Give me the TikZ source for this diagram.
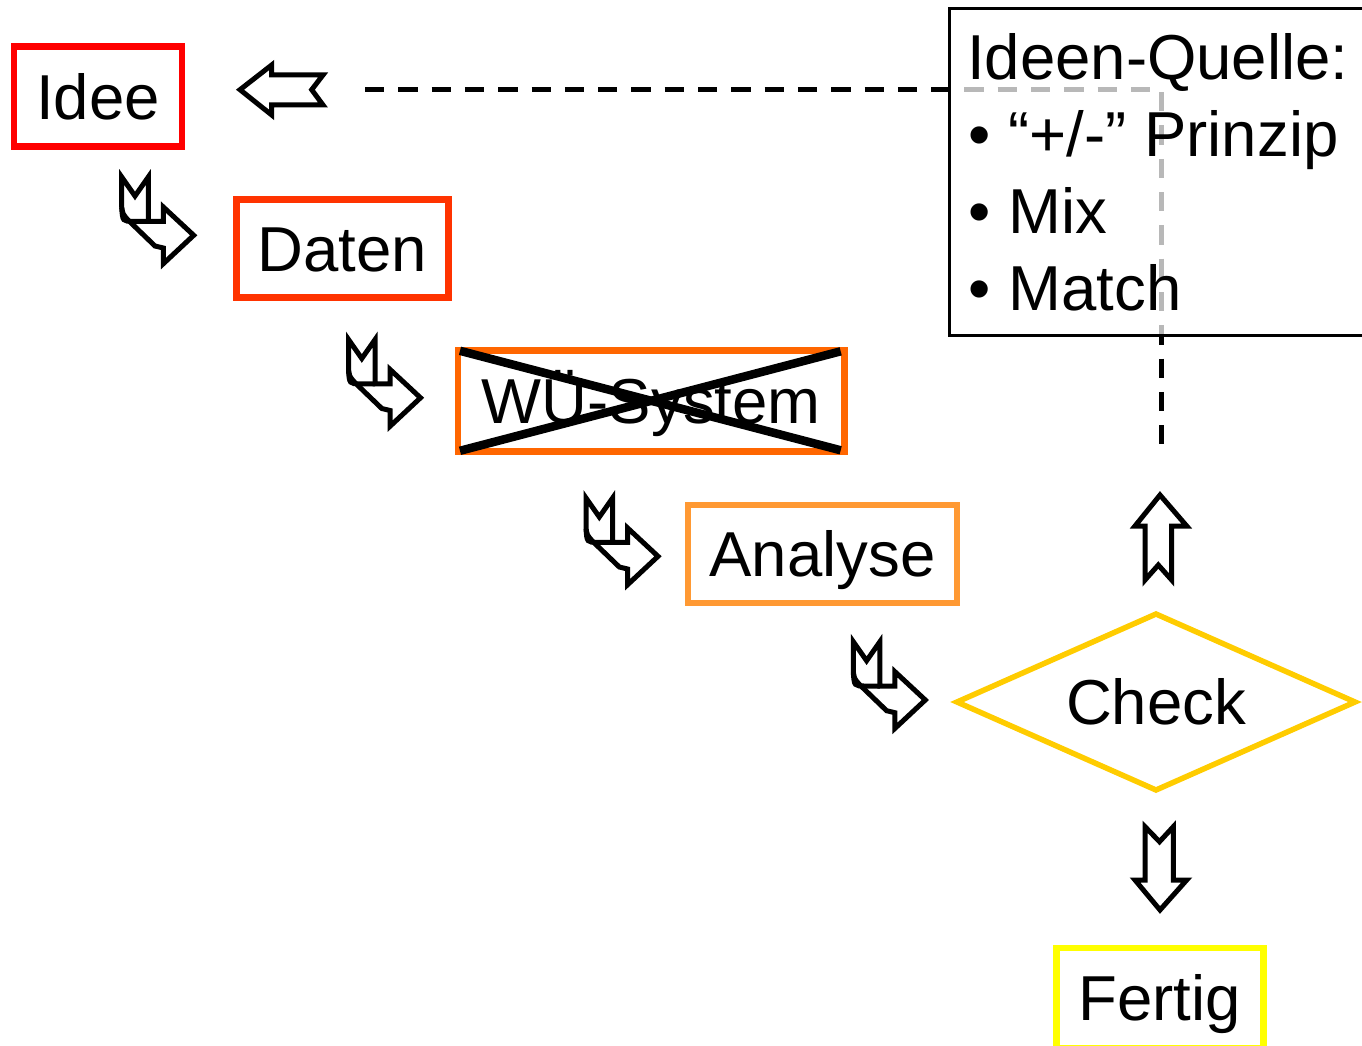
\documentclass[tikz,border=0pt]{standalone}
\usepackage{fontspec}
\setmainfont{Liberation Sans}
\usetikzlibrary{shapes.geometric}

\definecolor{ideerot}{HTML}{FF0000}
\definecolor{datenrot}{HTML}{FF3300}
\definecolor{wuorange}{HTML}{FF6600}
\definecolor{analyseorange}{HTML}{FF9933}
\definecolor{checkgelb}{HTML}{FFCC00}
\definecolor{fertiggelb}{HTML}{FFFF00}

\begin{document}
\begin{tikzpicture}[x = 1pt, y = -1pt, font = \fontsize{63.5}{76}\selectfont,
        stufe/.style = {draw, line width = 6.5pt, inner sep = 0pt, outer sep = 0pt,
                        text height = 45.5pt, text depth = 0pt},
        blockpfeil/.style = {draw, line width = 5pt},
        rueckweg/.style = {line width = 5pt, dash pattern = on 19.3pt off 14pt},
        kasten/.style = {draw, line width = 3pt, outer sep = 0pt, fill = white, fill opacity = 0.72},
        zeile/.style = {anchor = base west, inner sep = 0pt}]
        \useasboundingbox (0,0) rectangle (1362,1046);

        \coordinate (rueck) at (365,89.7);
        \coordinate (knick) at (1161.7,89.7);
        \coordinate (hoch) at (1161.7,444);
        \draw [rueckweg] (rueck) -- (knick) -- (hoch);

        \node [kasten, anchor = north west, minimum width = 445pt, minimum height = 326.7pt] (quelle) at (949.3,8.3) {};
        \node [zeile] (titel) at (967,80) {Ideen-Quelle:};
        \node [zeile] (prinzip) at (968.5,156.7) {• “+/-” Prinzip};
        \node [zeile] (mix) at (968.5,233) {• Mix};
        \node [zeile] (match) at (968.5,310) {• Match};

        \node [stufe, draw = ideerot, minimum width = 168pt, minimum height = 100pt] (idee) at (98,96.3) {Idee};
        \node [stufe, draw = datenrot, minimum width = 212pt, minimum height = 98pt] (daten) at (342.5,248.5) {Daten};
        \node [stufe, draw = wuorange, minimum width = 386.5pt, minimum height = 101pt] (wu) at (651.3,400.8) {WÜ-System};
        \node [stufe, draw = analyseorange, minimum width = 269pt, minimum height = 98pt] (analyse) at (822.5,554) {Analyse};
        \node [stufe, diamond, aspect = 2.26, draw = checkgelb, line width = 5.5pt, minimum width = 398pt, minimum height = 176pt] (check) at (1156,702) {Check};
        \node [stufe, draw = fertiggelb, minimum width = 207pt, minimum height = 100pt] (fertig) at (1159.8,997.8) {Fertig};

        \draw [line width = 8.5pt, shorten <= 2pt, shorten >= 4pt] (wu.north west) -- (wu.south east);
        \draw [line width = 8.5pt, shorten <= 2pt, shorten >= 4pt] (wu.south west) -- (wu.north east);

        \draw [blockpfeil] (240,89.7) -- (271.7,65) -- (271.7,75) -- (323,75) -- (311.7,89.7) -- (323,105) -- (271.7,105) -- (271.7,115) -- cycle;

        \foreach \px/\py in {121.7/177, 348.5/339.5, 586/498, 853.3/641.7} {
            \draw [blockpfeil, shift = {(\px,\py)}] (0,0) -- (13.3,19) -- (26.6,0) -- (26.6,44.3) -- (41.6,44.3) -- (41.6,30) -- (72,58.3) -- (41.6,86.7) -- (41.6,71) -- (33.3,69) -- (6.6,43.3) .. controls (1,37) .. (0,30) -- cycle;
            \draw [blockpfeil, shift = {(\px,\py)}] (0,31) .. controls (1,44.3) .. (11.6,44.3) -- (26.6,44.3);
        }

        \draw [blockpfeil] (1160,495) -- (1186.7,526) -- (1171.7,526) -- (1171.7,580) -- (1158.3,565) -- (1145,580) -- (1145,526) -- (1135,526) -- cycle;
        \draw [blockpfeil] (1145,826.7) -- (1159.5,841.7) -- (1173.3,826.7) -- (1173.3,880) -- (1186.7,880) -- (1160,910) -- (1135,880) -- (1145,880) -- cycle;
    \end{tikzpicture}
\end{document}
